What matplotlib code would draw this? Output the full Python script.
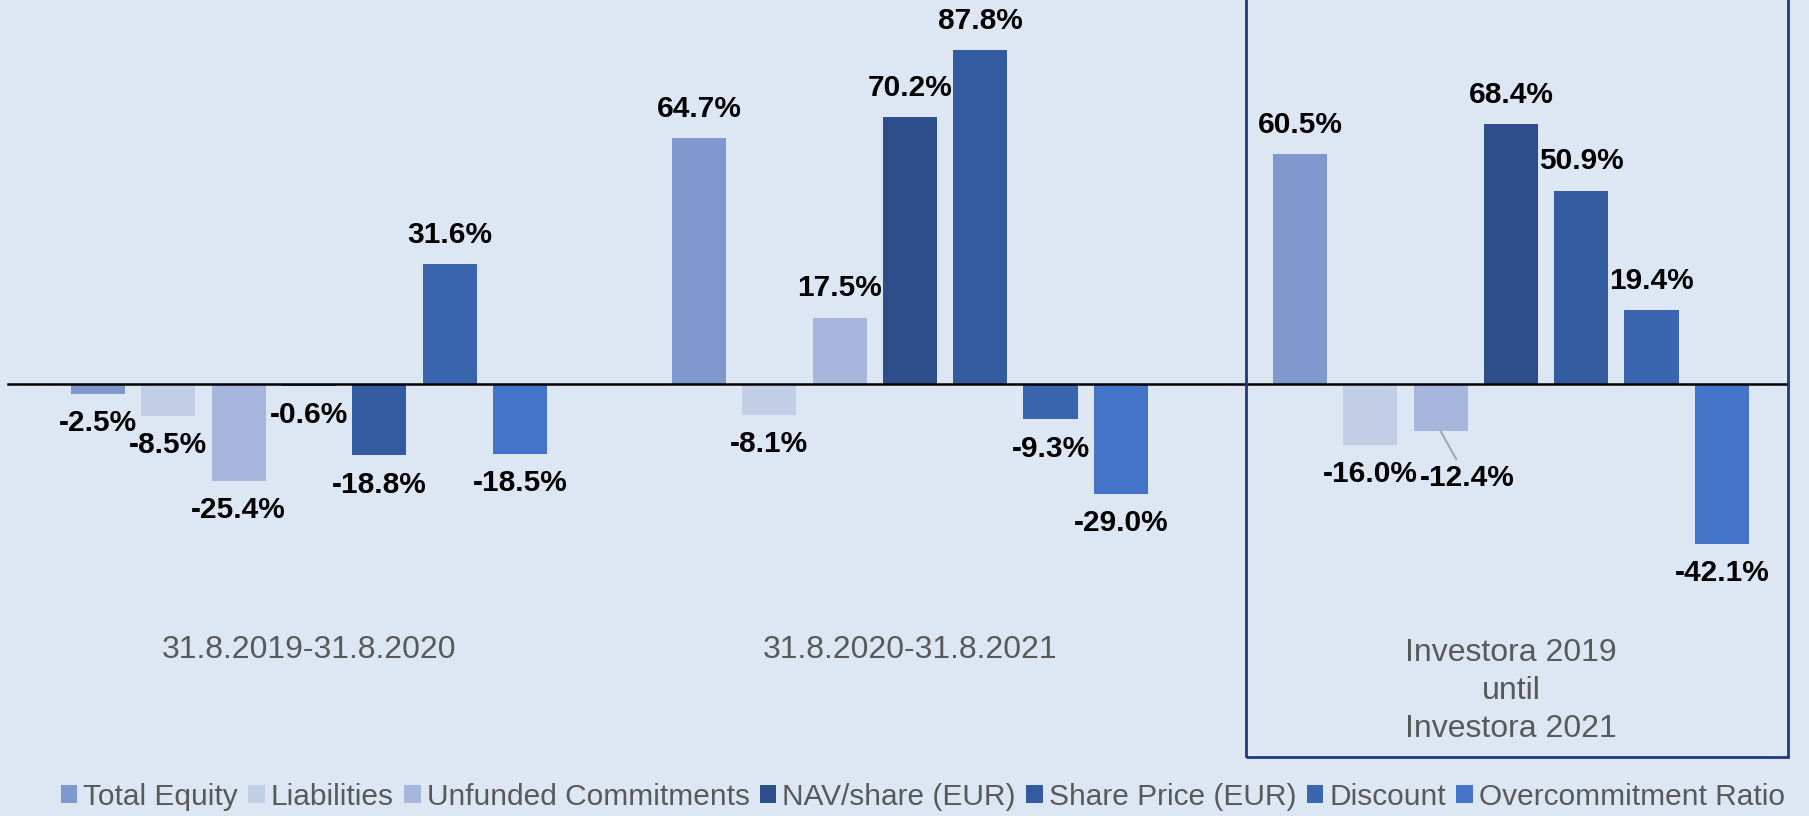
import matplotlib.pyplot as plt
from matplotlib.patches import Patch, Rectangle
import numpy as np

plt.rcParams['font.family'] = ['Liberation Sans', 'DejaVu Sans']

groups = ["31.8.2019-31.8.2020", "31.8.2020-31.8.2021", "Investora 2019\nuntil\nInvestora 2021"]
series = ["Total Equity", "Liabilities", "Unfunded Commitments", "NAV/share (EUR)",
          "Share Price (EUR)", "Discount", "Overcommitment Ratio"]
colors = ["#7f99cf", "#c2cde6", "#a7b6dc", "#2d4e8a", "#335ca0", "#3a66b0", "#4474c8"]

# one row per series, one column per period
values = [
    [-2.5, 64.7, 60.5],
    [-8.5, -8.1, -16.0],
    [-25.4, 17.5, -12.4],
    [-0.6, 70.2, 68.4],
    [-18.8, 87.8, 50.9],
    [31.6, -9.3, 19.4],
    [-18.5, -29.0, -42.1],
]

bg = "#dde7f3"
W, H = 1809, 816
fig = plt.figure(figsize=(W / 100, H / 100), dpi=100, facecolor=bg)
ax = fig.add_axes([0, 0, 1, 1])
ax.set_facecolor(bg)

zero_px = 384
px_per = 3.80
ax.set_ylim(-(H - zero_px) / px_per, zero_px / px_per)
ax.set_xlim(-0.514, 2.496)
ax.axis("off")

x = np.arange(len(groups))
step = 0.117
width = 0.09

for j, (name, vals, c) in enumerate(zip(series, values, colors)):
    pos = x + (j - 3) * step
    ax.bar(pos, vals, width, color=c, zorder=2)
    for i, (p, v) in enumerate(zip(pos, vals)):
        txt = f"{v:.1f}%"
        if name == "Unfunded Commitments" and i == 2:
            ax.annotate(txt, (p, v), xytext=(19, -34), textcoords="offset points",
                        ha="center", va="center", fontsize=21.5, fontweight="bold",
                        arrowprops=dict(arrowstyle="-", color="#a6a6a6", lw=1.5,
                                        shrinkA=2, shrinkB=0))
            continue
        off = 21 if v >= 0 else -21
        ax.annotate(txt, (p, v), xytext=(0, off), textcoords="offset points",
                    ha="center", va="center", fontsize=21.5, fontweight="bold", color="black")

ax.axhline(0, xmin=8 / W, xmax=1788 / W, color="black", lw=1.8, zorder=3)

# category labels
ax.text(x[0], -(650 - zero_px) / px_per, groups[0], ha="center", va="center",
        fontsize=23, color="#595959")
ax.text(x[1], -(650 - zero_px) / px_per, groups[1], ha="center", va="center",
        fontsize=23, color="#595959")
ax.text(x[2], -(691 - zero_px) / px_per, groups[2], ha="center", va="center",
        fontsize=23, color="#595959", linespacing=1.36)

# highlight box around last period
x0 = -0.514 + 1246 / 601
x1 = -0.514 + 1788 / 601
y0 = -(757 - zero_px) / px_per
ax.add_patch(Rectangle((x0, y0), x1 - x0, 200, fill=False, edgecolor="#1f3a7a",
                       lw=2, clip_on=False, zorder=4))

handles = [Patch(facecolor=c, label=s) for s, c in zip(series, colors)]
leg = fig.legend(handles=handles, loc="center", bbox_to_anchor=(0.51, 1 - 797 / H),
                 ncol=7, frameon=False, fontsize=21.5, handlelength=0.55, handleheight=0.55,
                 handletextpad=0.2, columnspacing=0.35, labelcolor="#595959")

plt.savefig("out.png", dpi=100, facecolor=bg)
plt.close()
